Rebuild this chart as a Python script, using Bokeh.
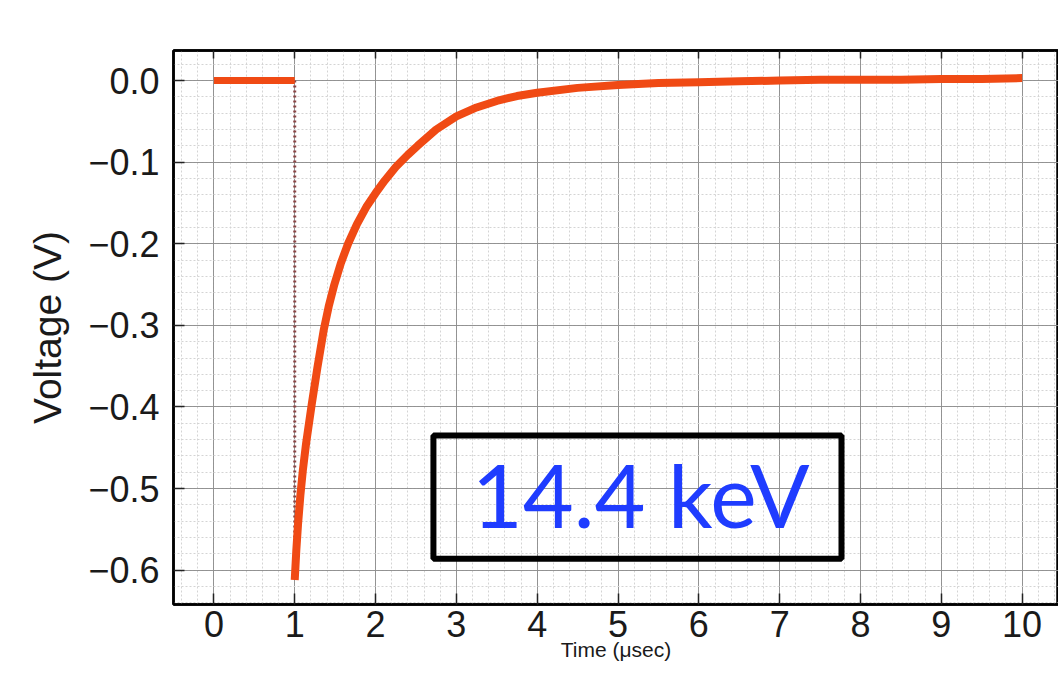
import numpy as np
from bokeh.plotting import figure
from bokeh.models import FixedTicker, LinearAxis, BoxAnnotation, Label, Range1d
from bokeh.embed import file_html
from bokeh.resources import INLINE

# ---- data ----
t_pre = [0.0, 1.0]
v_pre = [0.0, 0.0]

t_decay = [1.00, 1.02, 1.04, 1.07, 1.10, 1.14, 1.21, 1.28, 1.36, 1.42, 1.49, 1.57,
           1.66, 1.77, 1.885, 2.00, 2.11, 2.25, 2.40, 2.52, 2.75, 3.00, 3.25, 3.50,
           3.75, 4.00, 4.50, 5.00, 5.50, 6.00, 6.50, 7.00, 7.50, 8.00, 8.50, 9.00,
           9.50, 10.00]
v_decay = [-0.612, -0.575, -0.545, -0.508, -0.478, -0.445, -0.397, -0.352, -0.305,
           -0.277, -0.250, -0.224, -0.200, -0.176, -0.155, -0.138, -0.123, -0.106,
           -0.091, -0.080, -0.060, -0.044, -0.033, -0.025, -0.019, -0.015, -0.009,
           -0.0055, -0.003, -0.002, -0.001, 0.000, 0.001, 0.001, 0.001, 0.002,
           0.002, 0.003]

x_ticks = [0, 1, 2, 3, 4, 5, 6, 7, 8, 9, 10]
x_tick_labels = ["0", "1", "2", "3", "4", "5", "6", "7", "8", "9", "10"]
y_ticks = [0.0, -0.1, -0.2, -0.3, -0.4, -0.5, -0.6]
y_tick_labels = ["0.0", "\u22120.1", "\u22120.2", "\u22120.3", "\u22120.4", "\u22120.5", "\u22120.6"]

x_title = "Time (\u03bcsec)"
y_title = "Voltage (V)"
annotation_text = "14.4 keV"

# ---- figure ----
FONT = "Liberation Sans"
LINE_COLOR = "#f04a14"

p = figure(width=1058, height=673,
           x_range=Range1d(-0.5, 10.45), y_range=Range1d(-0.642, 0.0368),
           output_backend="svg", toolbar_location=None,
           min_border_left=173, min_border_right=0, min_border_top=50, min_border_bottom=69)
p.background_fill_color = "white"
p.border_fill_color = "white"
p.outline_line_color = "black"
p.outline_line_width = 2.5

x_minor = list(np.round(np.arange(-0.4, 10.45, 0.2), 3))
y_minor = list(np.round(np.arange(-0.64, 0.036, 0.02), 3))
xt = FixedTicker(ticks=x_ticks, minor_ticks=x_minor)
yt = FixedTicker(ticks=y_ticks, minor_ticks=y_minor)

for ax in p.xaxis:
    ax.ticker = xt
    ax.major_label_overrides = {k: v for k, v in zip(x_ticks, x_tick_labels)}
for ax in p.yaxis:
    ax.ticker = yt
    ax.major_label_overrides = {k: v for k, v in zip(y_ticks, y_tick_labels)}

for ax in list(p.xaxis) + list(p.yaxis):
    ax.axis_line_color = "black"
    ax.axis_line_width = 2.5
    ax.major_tick_in = 11
    ax.major_tick_out = 0
    ax.major_tick_line_color = "#222222"
    ax.major_tick_line_width = 1.5
    ax.minor_tick_in = 0
    ax.minor_tick_out = 0
    ax.major_label_text_font = FONT
    ax.major_label_text_font_size = "36px"
    ax.major_label_text_color = "#1a1a1a"

p.xaxis.major_label_standoff = 6
p.xaxis.axis_label = x_title
p.xaxis.axis_label_text_font = FONT
p.xaxis.axis_label_text_font_size = "21px"
p.xaxis.axis_label_text_font_style = "normal"
p.xaxis.axis_label_text_color = "#1a1a1a"
p.xaxis.axis_label_standoff = -2

p.yaxis.major_label_standoff = 14
p.yaxis.axis_label = y_title
p.yaxis.axis_label_text_font = FONT
p.yaxis.axis_label_text_font_size = "39px"
p.yaxis.axis_label_text_font_style = "normal"
p.yaxis.axis_label_text_color = "#1a1a1a"
p.yaxis.axis_label_standoff = 16

# mirrored ticks on top (no labels)
top = LinearAxis(ticker=xt, major_tick_in=8, major_tick_out=0, minor_tick_in=0, minor_tick_out=0,
                 major_label_overrides={k: "" for k in x_ticks}, major_label_standoff=0,
                 axis_line_color="black", axis_line_width=2.5, major_tick_line_color="#222222",
                 major_tick_line_width=1.5)
p.add_layout(top, "above")

# grids
for g in (p.xgrid, p.ygrid):
    g.grid_line_color = "#8a8a8a"
    g.grid_line_width = 1
    g.grid_line_alpha = 0.9
    g.minor_grid_line_color = "#d4d4d4"
    g.minor_grid_line_dash = "2 2"
    g.minor_grid_line_width = 1
p.xgrid.ticker = xt
p.ygrid.ticker = yt

# data
p.segment(x0=[t_pre[-1]], y0=[v_pre[-1]], x1=[t_decay[0]], y1=[v_decay[0]],
          line_color="#8a4545", line_width=3, line_dash="2 3")
p.line(t_pre, v_pre, line_color=LINE_COLOR, line_width=7)
p.line(t_decay, v_decay, line_color=LINE_COLOR, line_width=8, line_join="round")

# annotation box
box = BoxAnnotation(left=2.716, right=7.765, top=-0.435, bottom=-0.586,
                    fill_alpha=0, line_color="black", line_alpha=1.0, line_width=6)
p.add_layout(box)
lab = Label(x=5.28, y=-0.507, text=annotation_text, text_align="center", text_baseline="alphabetic",
            text_font="Lato", text_font_size="88px", text_color="#1f3cff")
p.add_layout(lab)

open("out.html", "w").write(file_html(p, INLINE))
